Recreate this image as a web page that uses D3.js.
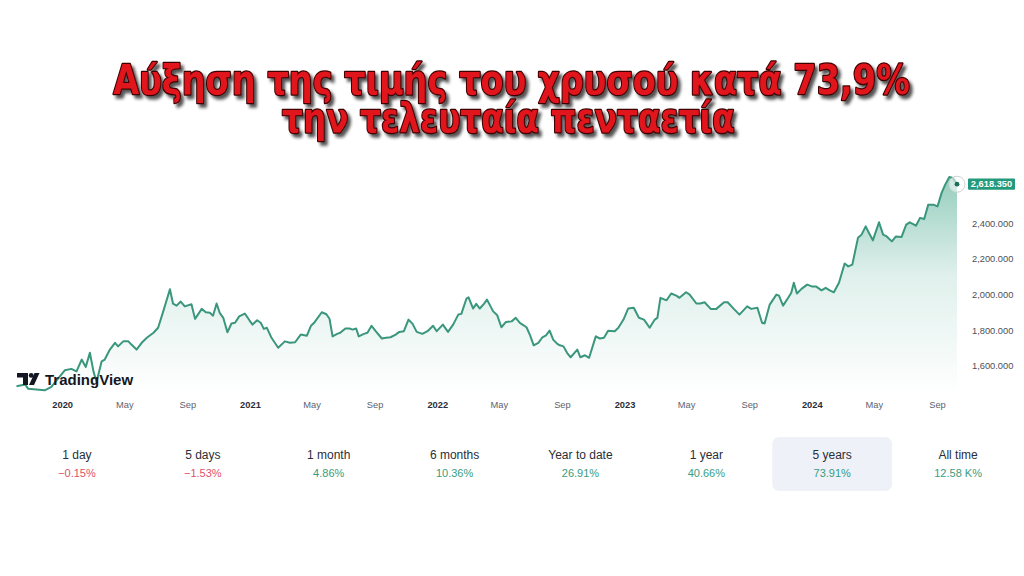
<!DOCTYPE html>
<html>
<head>
<meta charset="utf-8">
<script src="https://cdn.jsdelivr.net/npm/d3@7"></script>
<style>
  html, body { margin: 0; padding: 0; background: #ffffff; }
  svg { display: block; }
</style>
</head>
<body>
<svg id="chart" width="1024" height="576"></svg>
<script>
// ---------------- DATA ----------------
const titleLines = ["Αύξηση της τιμής του χρυσού κατά 73,9%", "την τελευταία πενταετία"];

const dates = [
"2019-10-04","2019-10-21","2019-10-27","2019-11-12","2019-11-28","2019-12-11",
"2020-01-06","2020-01-19","2020-01-29","2020-02-08","2020-02-16","2020-02-24","2020-03-02","2020-03-08","2020-03-18","2020-03-24",
"2020-04-03","2020-04-13","2020-04-19","2020-04-29","2020-05-09","2020-05-15","2020-05-25","2020-06-04","2020-06-14","2020-06-27",
"2020-07-06","2020-07-16","2020-07-29","2020-08-04","2020-08-11","2020-08-19","2020-08-27","2020-09-09","2020-09-16","2020-09-29",
"2020-10-07","2020-10-15","2020-10-21","2020-10-28","2020-11-03","2020-11-10","2020-11-18","2020-11-26","2020-12-03","2020-12-11",
"2020-12-22","2020-12-31","2021-01-06","2021-01-15","2021-01-22","2021-01-28","2021-02-03","2021-02-12","2021-02-25","2021-03-10",
"2021-03-20","2021-03-30","2021-04-10","2021-04-22","2021-04-30","2021-05-06","2021-05-21","2021-05-30","2021-06-05","2021-06-11",
"2021-06-20","2021-06-26","2021-07-06","2021-07-14","2021-07-20","2021-07-27","2021-08-01","2021-08-11","2021-08-18","2021-08-26",
"2021-09-03","2021-09-15","2021-09-23","2021-10-02","2021-10-12","2021-10-19","2021-10-28","2021-11-06","2021-11-14","2021-11-22",
"2021-12-03","2021-12-13","2021-12-24","2021-12-31","2022-01-12","2022-01-22","2022-02-01","2022-02-11","2022-02-17","2022-02-27",
"2022-03-03","2022-03-12","2022-03-18","2022-03-25","2022-04-02","2022-04-08","2022-04-20","2022-04-28","2022-05-06","2022-05-15",
"2022-05-26","2022-06-03","2022-06-11","2022-06-24","2022-07-01","2022-07-08","2022-07-17","2022-07-25","2022-08-01","2022-08-08",
"2022-08-15","2022-08-23","2022-08-28","2022-09-04","2022-09-11","2022-09-18","2022-10-01","2022-10-07","2022-10-16","2022-10-24",
"2022-11-06","2022-11-14","2022-11-22","2022-11-30","2022-12-13","2022-12-20","2022-12-30","2023-01-08","2023-01-19","2023-01-29",
"2023-02-08","2023-02-19","2023-03-01","2023-03-06","2023-03-12","2023-03-24","2023-04-02","2023-04-12","2023-04-18","2023-05-01",
"2023-05-08","2023-05-21","2023-05-29","2023-06-06","2023-06-18","2023-06-29","2023-07-14","2023-07-21","2023-08-02","2023-08-13",
"2023-08-28","2023-09-05","2023-09-17","2023-09-26","2023-10-01","2023-10-11","2023-10-24","2023-10-29","2023-11-06","2023-11-16",
"2023-11-22","2023-11-27","2023-12-03","2023-12-12","2023-12-23","2024-01-01","2024-01-09","2024-01-20","2024-01-28","2024-02-05",
"2024-02-13","2024-02-23","2024-03-05","2024-03-12","2024-03-20","2024-03-31","2024-04-07","2024-04-15","2024-04-22","2024-04-29",
"2024-05-11","2024-05-19","2024-05-26","2024-06-05","2024-06-13","2024-06-24","2024-07-03","2024-07-10","2024-07-22","2024-07-30",
"2024-08-07","2024-08-15","2024-08-25","2024-09-02","2024-09-10","2024-09-17","2024-09-25","2024-10-02","2024-10-10"
];

const prices = [
1486,1496,1472,1468,1464,1483,
1576,1584,1570,1636,1595,1674,1570,1510,1626,1636,
1692,1730,1710,1738,1738,1720,1692,1730,1758,1786,
1814,1906,2030,1950,1938,1961,1934,1946,1864,1920,
1901,1898,1882,1950,1898,1870,1789,1838,1842,1878,
1894,1856,1832,1856,1842,1808,1814,1758,1702,1738,
1730,1733,1776,1770,1826,1842,1901,1890,1865,1766,
1780,1786,1810,1810,1804,1810,1766,1780,1786,1825,
1795,1754,1758,1761,1776,1791,1795,1860,1836,1791,
1780,1795,1825,1795,1832,1791,1832,1888,1892,1978,
1985,1922,1948,1922,1948,1972,1906,1884,1817,1847,
1850,1870,1842,1817,1772,1716,1730,1761,1772,1798,
1748,1724,1716,1710,1674,1649,1692,1649,1660,1646,
1766,1754,1758,1798,1795,1814,1860,1922,1926,1870,
1860,1814,1860,1870,1982,1968,2006,1994,1982,2013,
2000,1950,1950,1957,1920,1920,1957,1957,1920,1888,
1934,1920,1926,1842,1838,1944,2000,1994,1938,1982,
2010,2066,2006,2032,2056,2046,2046,2024,2038,2024,
2013,2066,2174,2158,2168,2318,2336,2382,2342,2304,
2405,2336,2326,2298,2326,2323,2392,2405,2386,2430,
2424,2504,2504,2494,2570,2616,2659,2654,2618.35
];

const yTicks = [1600, 1800, 2000, 2200, 2400];
const xTickDates = ["2020-01-01","2020-05-01","2020-09-01","2021-01-01","2021-05-01","2021-09-01",
  "2022-01-01","2022-05-01","2022-09-01","2023-01-01","2023-05-01","2023-09-01","2024-01-01","2024-05-01","2024-09-01"];

const periods = ["1 day","5 days","1 month","6 months","Year to date","1 year","5 years","All time"];
const changes = [-0.15, -1.53, 4.86, 10.36, 26.91, 40.66, 73.91, 12580];
const selectedPeriod = "5 years";

const brandName = "TradingView";

// ---------------- SETUP ----------------
const parse = d3.utcParse("%Y-%m-%d");
const data = dates.map((d, i) => ({ date: parse(d), value: prices[i] }));

const svg = d3.select("#chart");

const plot = { left: 16.5, right: 957, top: 170, bottom: 395 };

const x = d3.scaleUtc()
  .domain(d3.extent(data, d => d.date))
  .range([plot.left, plot.right]);

const y = d3.scaleLinear()
  .domain([1600, 2400])
  .range([366, 223.2]);

const defs = svg.append("defs");

// area gradient
const grad = defs.append("linearGradient")
  .attr("id", "areaGrad")
  .attr("gradientUnits", "userSpaceOnUse")
  .attr("x1", 0).attr("x2", 0)
  .attr("y1", y(d3.max(prices))).attr("y2", plot.bottom);
grad.append("stop").attr("offset", "0%").attr("stop-color", "#2e9c7e").attr("stop-opacity", 0.5);
grad.append("stop").attr("offset", "45%").attr("stop-color", "#2e9c7e").attr("stop-opacity", 0.15);
grad.append("stop").attr("offset", "100%").attr("stop-color", "#2e9c7e").attr("stop-opacity", 0.0);

// title shadow
const f = defs.append("filter").attr("id", "titleShadow")
  .attr("filterUnits", "userSpaceOnUse")
  .attr("x", 0).attr("y", 30).attr("width", 1024).attr("height", 130);
f.append("feDropShadow").attr("dx", 3).attr("dy", 3.5).attr("stdDeviation", 1.7)
  .attr("flood-color", "#1a1a1a").attr("flood-opacity", 0.75);

// ---------------- TITLE ----------------
const titleSpecs = [
  { cx: 511.5, base: 94, len: 797 },
  { cx: 508.5, base: 132.5, len: 453 }
];
const baseSize = 41;
const titleOuter = svg.append("g").attr("filter", "url(#titleShadow)");
const titleInner = titleOuter.append("g");
const titleText = titleInner.append("text")
  .attr("text-anchor", "middle")
  .style("font-family", "'DejaVu Sans', sans-serif")
  .style("font-weight", "bold")
  .style("fill", "#e0121b")
  .style("stroke", "#3d0303")
  .style("stroke-width", 2)
  .style("paint-order", "stroke")
  .style("stroke-linejoin", "round");
const spans = titleText.selectAll("tspan")
  .data(titleLines)
  .join("tspan")
  .attr("x", (d, i) => titleSpecs[i].cx)
  .style("font-size", baseSize + "px")
  .text(d => d);
const sizes = [];
spans.each(function (d, i) {
  const w = this.getComputedTextLength();
  sizes.push(baseSize * titleSpecs[i].len / w);
});
spans.style("font-size", (d, i) => sizes[i] + "px");
const k = baseSize / d3.mean(sizes);
titleInner.attr("transform", `scale(1,${k})`);
spans.attr("y", (d, i) => titleSpecs[i].base / k);

// ---------------- AREA + LINE ----------------
const area = d3.area()
  .x(d => x(d.date))
  .y0(plot.bottom)
  .y1(d => y(d.value));

const line = d3.line()
  .x(d => x(d.date))
  .y(d => y(d.value));

svg.append("path")
  .datum(data)
  .attr("d", area)
  .attr("fill", "url(#areaGrad)");

svg.append("path")
  .datum(data)
  .attr("d", line)
  .attr("fill", "none")
  .attr("stroke", "#3a967c")
  .attr("stroke-width", 2)
  .attr("stroke-linejoin", "round");

// last point marker
const last = data[data.length - 1];
svg.append("circle")
  .attr("cx", x(last.date)).attr("cy", y(last.value))
  .attr("r", 8)
  .attr("fill", "rgba(255,255,255,0.55)")
  .attr("stroke", "#cfd3d2").attr("stroke-width", 1);
svg.append("circle")
  .attr("cx", x(last.date)).attr("cy", y(last.value))
  .attr("r", 2.4)
  .attr("fill", "#1d6d58");

// ---------------- Y AXIS ----------------
const yAxis = d3.axisRight(y)
  .tickValues(yTicks)
  .tickFormat(d3.format(",.3f"))
  .tickSize(0)
  .tickPadding(0);

const yg = svg.append("g")
  .attr("transform", `translate(972,0)`)
  .call(yAxis);
yg.select(".domain").remove();
yg.selectAll("text")
  .style("font-family", "'Liberation Sans', Arial, sans-serif")
  .style("font-size", "9.3px")
  .style("fill", "#4a4f5a");

// last price badge
const badgeY = y(last.value);
svg.append("rect")
  .attr("x", 968).attr("y", badgeY - 5.6)
  .attr("width", 47).attr("height", 11.2)
  .attr("rx", 1)
  .attr("fill", "#22997a");
svg.append("text")
  .attr("x", 991.5).attr("y", badgeY)
  .attr("dy", "0.35em")
  .attr("text-anchor", "middle")
  .style("font-family", "'Liberation Sans', Arial, sans-serif")
  .style("font-size", "9.3px")
  .style("font-weight", "bold")
  .style("fill", "#ffffff")
  .text(d3.format(",.3f")(last.value));

// ---------------- X AXIS ----------------
const monthFmt = d3.utcFormat("%b");
const xAxis = d3.axisBottom(x)
  .tickValues(xTickDates.map(parse))
  .tickFormat(d => d.getUTCMonth() === 0 ? String(d.getUTCFullYear()) : monthFmt(d))
  .tickSize(0)
  .tickPadding(6);

const xg = svg.append("g")
  .attr("transform", `translate(0,${plot.bottom})`)
  .call(xAxis);
xg.select(".domain").remove();
xg.selectAll("text")
  .style("font-family", "'Liberation Sans', Arial, sans-serif")
  .style("font-size", "9.3px")
  .style("fill", d => d.getUTCMonth() === 0 ? "#2a2e39" : "#5d6270")
  .style("font-weight", d => d.getUTCMonth() === 0 ? "bold" : "normal");

// ---------------- LOGO ----------------
const logo = svg.append("g").attr("transform", "translate(17,373)");
logo.append("path").attr("d", "M0,0 H11 V12 H6 V4.5 H0 Z").attr("fill", "#131722");
logo.append("circle").attr("cx", 14.2).attr("cy", 2.4).attr("r", 2.4).attr("fill", "#131722");
logo.append("path").attr("d", "M17.5,0 H22.5 L17,12 H12 Z").attr("fill", "#131722");
svg.append("text")
  .attr("x", 45).attr("y", 384.5)
  .style("font-family", "'Liberation Sans', Arial, sans-serif")
  .style("font-size", "15px")
  .style("font-weight", "bold")
  .style("fill", "#131722")
  .text(brandName);

// ---------------- PERFORMANCE ROW ----------------
const band = d3.scaleBand().domain(periods).range([14, 1021]);

svg.append("rect")
  .attr("x", band(selectedPeriod) + 3)
  .attr("y", 437)
  .attr("width", band.bandwidth() - 6)
  .attr("height", 54)
  .attr("rx", 7)
  .attr("fill", "#eef1f8");

const fmtChange = v => {
  const sign = v < 0 ? "\u2212" : "";
  const a = Math.abs(v);
  return a >= 1000 ? sign + (a / 1000).toFixed(2) + " K%" : sign + a.toFixed(2) + "%";
};

const cols = svg.append("g").selectAll("g")
  .data(periods)
  .join("g")
  .attr("transform", d => `translate(${band(d) + band.bandwidth() / 2},0)`);

cols.append("text")
  .attr("y", 455).attr("dy", "0.35em")
  .attr("text-anchor", "middle")
  .style("font-family", "'Liberation Sans', Arial, sans-serif")
  .style("font-size", "12px")
  .style("fill", "#2a2e39")
  .text(d => d);

cols.append("text")
  .attr("y", 473.5).attr("dy", "0.35em")
  .attr("text-anchor", "middle")
  .style("font-family", "'Liberation Sans', Arial, sans-serif")
  .style("font-size", "11px")
  .style("fill", (d, i) => changes[i] < 0 ? "#e0506a" : "#3a9c7e")
  .text((d, i) => fmtChange(changes[i]));
</script>
</body>
</html>
